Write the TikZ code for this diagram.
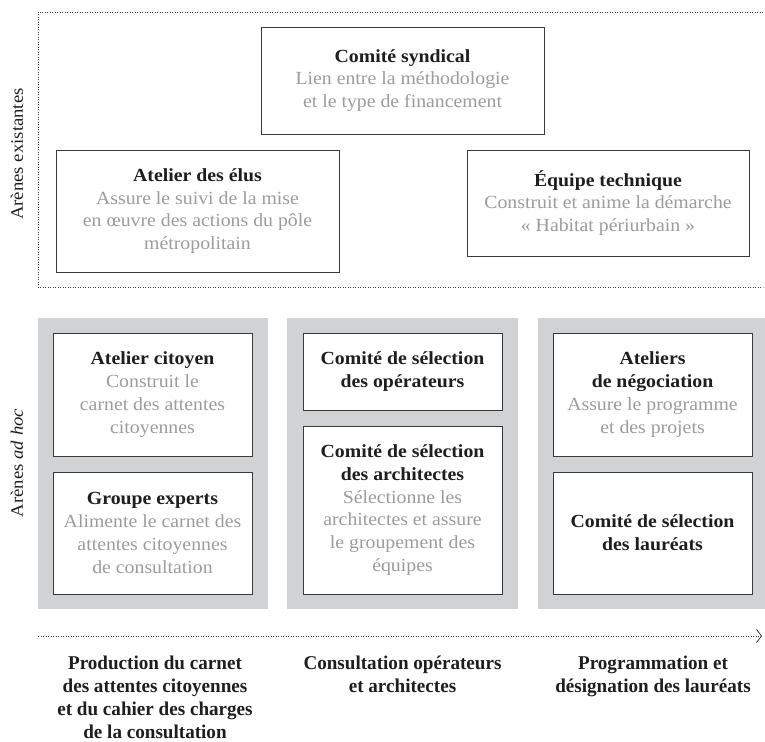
\documentclass[tikz,border=0pt]{standalone}
\usepackage{fontspec}
\setmainfont[FakeStretch=1.07]{Liberation Serif}
\newfontfamily\phasefont[FakeStretch=0.98]{Liberation Serif}
\usetikzlibrary{arrows.meta}
\definecolor{panelgray}{HTML}{D1D2D4}
\definecolor{desc}{HTML}{9C9C9C}
\definecolor{edge}{HTML}{3A3A3A}
\definecolor{ttl}{HTML}{1E1E1E}
\newcommand\dsc[1]{\textcolor{desc}{#1}}
\newcommand\ttl[1]{\textcolor{ttl}{\bfseries #1}}
\begin{document}
\begin{tikzpicture}[x=1pt,y=-1pt,
  boxnode/.style={draw=edge, line width=0.8pt, fill=white, align=center, inner sep=0pt,
    font=\fontsize{18.5}{22.8}\selectfont},
  panel/.style={fill=panelgray, draw=none, inner sep=0pt},
  sidelabel/.style={rotate=90, font=\fontsize{17.5}{21}\selectfont, text=ttl},
  phase/.style={align=center, anchor=north, inner sep=0pt, font=\phasefont\bfseries\fontsize{19.5}{22.8}\selectfont, text=ttl},
  dotline/.style={draw=edge, line width=0.8pt, dash pattern=on 0.8pt off 1.7pt}
]
\useasboundingbox (0,0) rectangle (765,741);

% top dotted frame
\coordinate (fTR) at (763,12);
\coordinate (fTL) at (38,12);
\coordinate (fBL) at (38,287);
\coordinate (fBR) at (763,287);
\draw[dotline] (fTR) -- (fTL) -- (fBL) -- (fBR);

\node[sidelabel] (lab1) at (17,154) {Arènes existantes};
\node[sidelabel] (lab2) at (17,463) {Arènes \textit{ad hoc}};

\node[boxnode, minimum width=283pt, minimum height=107pt] (syn) at (402.5,80.5)
  {\ttl{Comité syndical}\\\dsc{Lien entre la méthodologie}\\\dsc{et le type de financement}};
\node[boxnode, minimum width=283pt, minimum height=122pt] (elus) at (197.5,211)
  {\ttl{Atelier des élus}\\\dsc{Assure le suivi de la mise}\\\dsc{en œuvre des actions du pôle}\\\dsc{métropolitain}};
\node[boxnode, minimum width=282pt, minimum height=106pt] (tech) at (608,203)
  {\ttl{Équipe technique}\\\dsc{Construit et anime la démarche}\\\dsc{« Habitat périurbain »}};

% panels
\node[panel, minimum width=230pt, minimum height=291pt] (p1) at (153,463.5) {};
\node[panel, minimum width=231pt, minimum height=291pt] (p2) at (402.5,463.5) {};
\node[panel, minimum width=230pt, minimum height=291pt] (p3) at (653,463.5) {};

\node[boxnode, minimum width=199pt, minimum height=123pt] (cit) at (152.5,394.5)
  {\ttl{Atelier citoyen}\\\dsc{Construit le}\\\dsc{carnet des attentes}\\\dsc{citoyennes}};
\node[boxnode, minimum width=199pt, minimum height=122pt] (exp) at (152.5,533)
  {\ttl{Groupe experts}\\\dsc{Alimente le carnet des}\\\dsc{attentes citoyennes}\\\dsc{de consultation}};
\node[boxnode, minimum width=199pt, minimum height=77pt] (ope) at (402.5,371.5)
  {\ttl{Comité de sélection}\\\ttl{des opérateurs}};
\node[boxnode, minimum width=199pt, minimum height=168pt] (arc) at (402.5,510)
  {\ttl{Comité de sélection}\\\ttl{des architectes}\\\dsc{Sélectionne les}\\\dsc{architectes et assure}\\\dsc{le groupement des}\\\dsc{équipes}};
\node[boxnode, minimum width=199pt, minimum height=123pt] (neg) at (652.5,394.5)
  {\ttl{Ateliers}\\\ttl{de négociation}\\\dsc{Assure le programme}\\\dsc{et des projets}};
\node[boxnode, minimum width=199pt, minimum height=122pt] (lau) at (652.5,533)
  {\ttl{Comité de sélection}\\\ttl{des lauréats}};

% timeline arrow
\coordinate (aS) at (38,636);
\coordinate (aE) at (762,636);
\draw[dotline, -{Straight Barb[length=5pt, width=13pt, line width=0.8pt]}] (aS) -- (aE);

\node[phase] (ph1) at (155,656) {Production du carnet\\des attentes citoyennes\\et du cahier des charges\\de la consultation};
\node[phase] (ph2) at (402.5,656) {Consultation opérateurs\\et architectes};
\node[phase] (ph3) at (653,656) {Programmation et\\désignation des lauréats};
\end{tikzpicture}
\end{document}
